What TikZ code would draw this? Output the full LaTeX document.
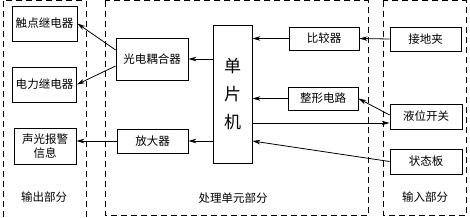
\documentclass[tikz,border=0pt]{standalone}
\usepackage{fontspec}
\newfontfamily\cjk{Noto Sans CJK SC}
\usetikzlibrary{arrows.meta}

\begin{document}
\begin{tikzpicture}[x=1pt,y=-1pt,
  blk/.style={draw, line width=0.8pt, inner sep=0pt, align=center,
              font=\cjk\fontsize{11.5}{14}\selectfont},
  grp/.style={draw, dash pattern=on 6pt off 4pt, line width=0.8pt},
  a/.style={-{Stealth[length=8pt,width=4.5pt]}, line width=0.8pt},
  lb/.style={font=\cjk\fontsize{11.5}{14}\selectfont, inner sep=1pt}]
  \useasboundingbox (0,0) rectangle (470,217);
  \clip (0,0) rectangle (470,217);
  % the three parts
  \draw[grp] (3,0.5) rectangle (86,222);
  \draw[grp] (105,0.5) rectangle (368,215);
  \draw[grp] (383,0.5) rectangle (466,215);
  \node[lb] (outp) at (44,197)  {输出部分};
  \node[lb] (proc) at (233,198) {处理单元部分};
  \node[lb] (inp)  at (425,197) {输入部分};
  % output side
  \node[blk, minimum width=65pt, minimum height=35pt] (r1) at (44.5,23.5) {触点继电器};
  \node[blk, minimum width=64pt, minimum height=35pt] (r2) at (44.5,84.5) {电力继电器};
  \node[blk, minimum width=62pt, minimum height=36pt] (al) at (45,146) {声光报警\\信息};
  % processing unit
  \node[blk, minimum width=72pt, minimum height=42pt] (oc)  at (152,59)  {光电耦合器};
  \node[blk, minimum width=71pt, minimum height=24pt] (amp) at (152.5,141) {放大器};
  \node[blk, minimum width=39pt, minimum height=138pt,
        font=\cjk\fontsize{17}{28}\selectfont] (mcu) at (232.5,94) {单\\片\\机};
  \node[blk, minimum width=70pt, minimum height=23pt] (cmp) at (324,38.5) {比较器};
  \node[blk, minimum width=70pt, minimum height=23pt] (sh)  at (323,98.5) {整形电路};
  % input side
  \node[blk, minimum width=71pt, minimum height=24pt] (gc) at (425.5,39)  {接地夹};
  \node[blk, minimum width=72pt, minimum height=25pt] (lv) at (426,116.5) {液位开关};
  \node[blk, minimum width=72pt, minimum height=25pt] (st) at (426,161.5) {状态板};
  \coordinate (lvin) at ([yshift=-6.5pt]lv.west);
  % connections
  \draw[a] ([yshift=9pt]oc.west) -- (r1.east);
  \draw[a] ([yshift=-7pt]oc.west) -- (r2.east);
  \draw[a] (amp.west) -- (amp.west -| al.east);
  \draw[a] (mcu.west |- oc) -- (oc.east);
  \draw[a] (mcu.west |- amp) -- (amp.east);
  \draw[a] (cmp.west) -- (cmp.west -| mcu.east);
  \draw[a] (sh.west) -- (sh.west -| mcu.east);
  \draw[a] (mcu.east |- lvin) -- (lvin);
  \draw[a] ([yshift=1.5pt]lv.west) -- (sh.east);
  \draw[a] (gc.west) -- (cmp.east);
  \draw[a] (st.west) -- ([yshift=-47pt]mcu.east);
\end{tikzpicture}
\end{document}
